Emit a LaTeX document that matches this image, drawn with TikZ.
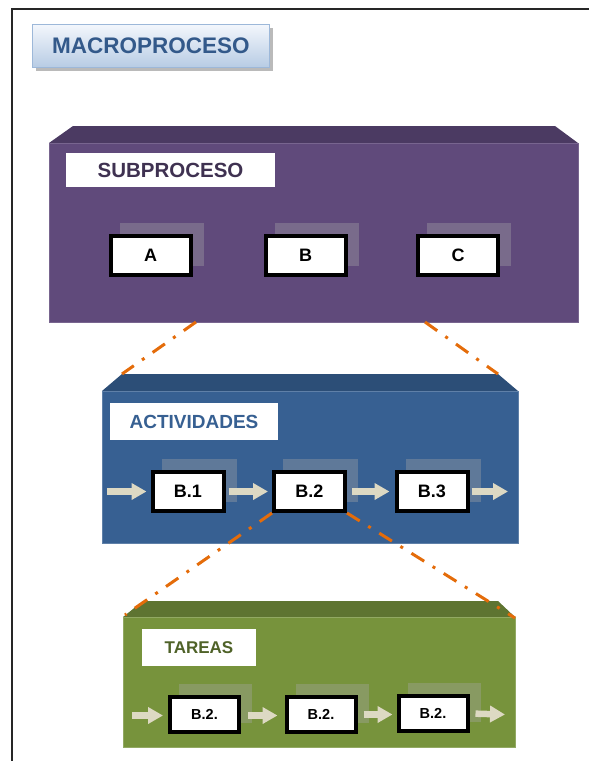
\documentclass[tikz,border=0pt]{standalone}
\usepackage{fontspec}
\setmainfont{Liberation Sans}
\usetikzlibrary{arrows.meta,shadows}

\definecolor{purpleFront}{HTML}{604A7B}
\definecolor{purpleTop}{HTML}{4B3A62}
\definecolor{purpleText}{HTML}{3F3151}
\definecolor{blueFront}{HTML}{376092}
\definecolor{blueTop}{HTML}{2C4E77}
\definecolor{blueText}{HTML}{376092}
\definecolor{greenFront}{HTML}{77933C}
\definecolor{greenTop}{HTML}{5E7431}
\definecolor{greenText}{HTML}{4F6228}
\definecolor{macroText}{HTML}{33598A}
\definecolor{macroTop}{HTML}{F3F7FC}
\definecolor{macroBottom}{HTML}{B7CBE4}
\definecolor{macroEdge}{HTML}{9DB8D9}
\definecolor{linkOrange}{HTML}{E46C0A}
\definecolor{flowBeige}{HTML}{DDD9C3}
\definecolor{shadeGray}{HTML}{A8A8A8}

\pgfdeclarelayer{slabs}
\pgfdeclarelayer{shades}
\pgfsetlayers{slabs,shades,main}

\begin{document}
\begin{tikzpicture}[x=1pt,y=-1pt,
  macrobtn/.style={draw=macroEdge, line width=0.8pt, top color=macroTop, bottom color=macroBottom,
    minimum width=237pt, minimum height=43pt, inner sep=0pt, text=macroText,
    font=\bfseries\fontsize{22.5}{24}\selectfont,
    drop shadow={shadow xshift=3pt, shadow yshift=-3pt, fill=black!45, opacity=0.6}},
  tagbox/.style={fill=white, inner sep=0pt, font=\bfseries\fontsize{#1}{#1}\selectfont},
  taskbox/.style={draw=black, line width=4pt, fill=white, inner sep=0pt, text=black},
  bigbox/.style={taskbox, minimum width=80pt, minimum height=39pt, font=\bfseries\fontsize{18}{20}\selectfont},
  midbox/.style={taskbox, minimum width=71pt, minimum height=39pt, font=\bfseries\fontsize{18}{20}\selectfont},
  smallbox/.style={taskbox, minimum width=69pt, minimum height=35pt, font=\bfseries\fontsize{14.5}{16}\selectfont},
  boxshade/.style={fill=shadeGray, fill opacity=0.36},
  flow/.style={draw=flowBeige, line width=6.5pt, -{Triangle[length=15pt,width=16pt]}},
  link/.style={draw=linkOrange, line width=3pt, dash pattern=on 15pt off 10pt on 3pt off 10pt},
  slabedge/.style={line width=0.5pt}
]
\useasboundingbox (0,0) rectangle (589,761);

% page frame
\draw[line width=1.4pt, black!85] (12,761) -- (12,9) -- (589,9);

% title button
\node[macrobtn] (macro) at (151,46) {MACROPROCESO};

\begin{pgfonlayer}{slabs}
  % subprocess slab
  \fill[purpleTop] (49,143) -- (73,126) -- (555,126) -- (578,143) -- cycle;
  \filldraw[fill=purpleFront, draw=purpleFront!85!white, slabedge] (49,143) rectangle (578,322);
  % activities slab
  \fill[blueTop] (102,391) -- (122,374) -- (498,374) -- (518,391) -- cycle;
  \filldraw[fill=blueFront, draw=blueFront!80!white, slabedge] (102,391) rectangle (518,543);
  % tasks slab
  \fill[greenTop] (123,617) -- (143,601) -- (498,601) -- (515,617) -- cycle;
  \filldraw[fill=greenFront, draw=greenFront!80!white, slabedge] (123,617) rectangle (515,747);
\end{pgfonlayer}

% slab corners used by the zoom lines
\coordinate (subL) at (196,322);
\coordinate (subR) at (425,322);
\coordinate (actL) at (122,374);
\coordinate (actR) at (498,374);
\coordinate (tarL) at (125,615);
\coordinate (tarR) at (515,618);

% headers
\node[tagbox=20.5, text=purpleText, minimum width=209pt, minimum height=34pt] (sub) at (170.5,170) {SUBPROCESO};
\node[tagbox=19, text=blueText, minimum width=168pt, minimum height=37pt] (act) at (194,421.5) {ACTIVIDADES};
\node[tagbox=17, text=greenText, minimum width=114pt, minimum height=37pt] (tar) at (199,647.5) {TAREAS};

% subprocesses
\node[bigbox] (a) at (150.5,255.5) {A};
\node[bigbox] (b) at (305.5,255.5) {B};
\node[bigbox] (c) at (458,255.5) {C};

% activities
\node[midbox] (b1) at (188,491.5) {B.1};
\node[midbox] (b2) at (309.5,491.5) {B.2};
\node[midbox] (b3) at (432,491.5) {B.3};

% tasks
\node[smallbox] (t1) at (204.5,714.5) {B.2.};
\node[smallbox] (t2) at (321,714.5) {B.2.};
\node[smallbox] (t3) at (433,713.5) {B.2.};

% offset shades behind the boxes
\begin{pgfonlayer}{shades}
  \foreach \n in {a,b,c,b1,b2,b3,t1,t2,t3}
    \fill[boxshade] ([shift={(11pt,11pt)}]\n.south west) rectangle ([shift={(11pt,11pt)}]\n.north east);
\end{pgfonlayer}

% flow arrows, activities
\coordinate (actIn) at (107,491.5);
\coordinate (actOut) at (508,491.5);
\draw[flow, shorten >=4pt] (actIn) -- (b1.west);
\draw[flow, shorten <=3pt, shorten >=4pt] (b1.east) -- (b2.west);
\draw[flow, shorten <=5pt, shorten >=5pt] (b2.east) -- (b3.west);
\draw[flow, shorten <=2pt] (b3.east) -- (actOut);

% flow arrows, tasks
\coordinate (tarIn) at (132,715.5);
\coordinate (tarOut) at (505,714.5);
\draw[flow, shorten >=5pt] (tarIn) -- (t1.west |- tarIn);
\draw[flow, shorten <=7pt, shorten >=7pt] (t1.east |- tarIn) -- (t2.west |- tarIn);
\draw[flow, shorten <=6pt, shorten >=4pt] (t2.east) -- (t3.west |- t2.east);
\draw[flow, shorten <=6pt] (t3.east) -- (tarOut);

% zoom lines
\draw[link] (subL) -- (actL);
\draw[link] (subR) -- (actR);
\draw[link] (b2.south west) -- (tarL);
\draw[link] (b2.south east) -- (tarR);
\end{tikzpicture}
\end{document}
